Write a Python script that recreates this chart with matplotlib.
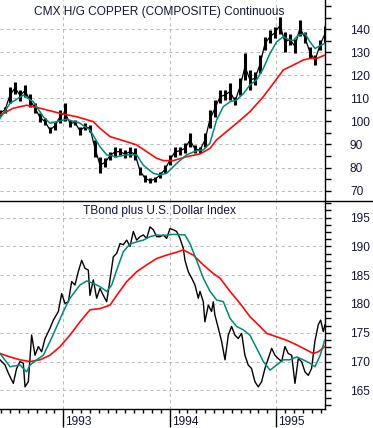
import numpy as np
import matplotlib
matplotlib.use("Agg")
import matplotlib.pyplot as plt
from matplotlib.lines import Line2D
from matplotlib.ticker import MultipleLocator, FixedLocator, NullFormatter

# ---------------- data (decimal years) ----------------
cu_x = [1992.406, 1992.453, 1992.500, 1992.547, 1992.594, 1992.641, 1992.688, 1992.735,
        1992.782, 1992.829, 1992.876, 1992.922, 1992.970, 1993.016, 1993.063, 1993.110,
        1993.157, 1993.204, 1993.251, 1993.298, 1993.345, 1993.392, 1993.439, 1993.486,
        1993.533, 1993.580, 1993.627, 1993.674, 1993.721, 1993.768, 1993.815, 1993.862,
        1993.909, 1993.956, 1994.002, 1994.049, 1994.096, 1994.143, 1994.190, 1994.237,
        1994.284, 1994.331, 1994.378, 1994.425, 1994.472, 1994.519, 1994.566, 1994.613,
        1994.660, 1994.707, 1994.754, 1994.801, 1994.848, 1994.895, 1994.942, 1994.989,
        1995.035, 1995.082, 1995.129, 1995.176, 1995.223, 1995.270, 1995.317, 1995.364,
        1995.411, 1995.455]
cu_low = [102.5, 103.5, 107.8, 112.0, 109.0, 110.7, 106.4, 103.5, 99.9, 98.4, 94.8, 96.3,
          99.2, 100.0, 97.7, 98.4, 94.1, 96.3, 95.6, 84.7, 77.5, 80.4, 83.3, 84.7,
          85.5, 84.0, 84.7, 83.3, 76.8, 73.9, 73.2, 73.9, 75.4, 77.5, 81.0, 84.7,
          85.5, 86.2, 89.0, 86.2, 86.2, 89.0, 97.0, 102.0, 107.8, 109.3, 109.3, 107.0,
          111.4, 118.0, 113.6, 115.8, 120.8, 130.9, 133.8, 136.0, 138.0, 130.2, 133.0, 129.5,
          137.0, 133.8, 127.3, 124.4, 130.9, 133.8]
cu_high = [105.0, 106.4, 115.0, 117.0, 113.6, 115.8, 112.0, 108.0, 103.5, 101.3, 97.7, 99.9,
           105.0, 108.0, 100.6, 100.6, 97.7, 99.2, 98.4, 92.0, 84.7, 84.0, 86.9, 89.0,
           88.3, 87.6, 89.0, 88.3, 80.4, 76.8, 75.4, 76.0, 78.2, 81.0, 85.5, 89.0,
           89.0, 90.5, 94.8, 89.8, 89.0, 94.8, 105.0, 109.3, 113.6, 113.6, 116.5, 110.7,
           118.6, 129.5, 122.3, 121.5, 128.7, 136.7, 139.6, 141.0, 145.3, 138.8, 138.0, 135.5,
           143.9, 138.8, 132.4, 128.7, 135.2, 141.5]

cu_ma_x = [1992.406, 1992.500, 1992.625, 1992.719, 1992.813, 1992.876, 1992.939, 1993.032,
           1993.157, 1993.251, 1993.345, 1993.408, 1993.502, 1993.596, 1993.689, 1993.752,
           1993.846, 1993.908, 1993.971, 1994.065, 1994.158, 1994.252, 1994.315, 1994.377,
           1994.440, 1994.503, 1994.566, 1994.628, 1994.691, 1994.753, 1994.816, 1994.879,
           1994.942, 1995.004, 1995.067, 1995.113, 1995.160, 1995.207, 1995.270, 1995.317,
           1995.364, 1995.455]
cu_ma_fast = [101.3, 107.8, 111.4, 108.5, 102.0, 99.2, 99.9, 100.9, 99.2, 96.3, 89.0, 85.5,
              84.7, 85.5, 85.5, 81.0, 77.5, 76.8, 77.5, 81.8, 85.5, 87.3, 87.6, 90.5,
              100.6, 106.4, 108.5, 109.3, 112.0, 115.8, 118.0, 123.0, 129.5, 134.5, 136.7, 135.5,
              135.0, 137.4, 138.0, 134.5, 131.6, 133.8]
cu_ma_slow_x = [1992.406, 1992.531, 1992.656, 1992.782, 1992.970, 1993.126, 1993.282, 1993.345,
                1993.439, 1993.596, 1993.689, 1993.783, 1993.877, 1993.940, 1994.034, 1994.158,
                1994.284, 1994.378, 1994.440, 1994.534, 1994.628, 1994.753, 1994.879, 1994.973,
                1995.067, 1995.160, 1995.254, 1995.317, 1995.380, 1995.455]
cu_ma_slow = [102.8, 105.7, 107.0, 105.7, 103.5, 102.0, 99.9, 97.0, 93.4, 91.2, 89.8, 86.9,
              84.0, 83.0, 83.0, 84.7, 85.9, 88.3, 92.0, 95.6, 99.2, 104.2, 110.7, 116.5,
              122.3, 124.4, 126.6, 127.3, 127.3, 128.7]

tb_x = [1992.406, 1992.453, 1992.484, 1992.531, 1992.562, 1992.594, 1992.625, 1992.641, 1992.672,
        1992.703, 1992.735, 1992.766, 1992.797, 1992.829, 1992.876, 1992.907, 1992.954, 1992.985,
        1993.016, 1993.048, 1993.079, 1993.110, 1993.141, 1993.173, 1993.204, 1993.235, 1993.251,
        1993.282, 1993.314, 1993.345, 1993.376, 1993.408, 1993.439, 1993.470, 1993.502, 1993.533,
        1993.564, 1993.596, 1993.627, 1993.658, 1993.689, 1993.721, 1993.752, 1993.783, 1993.815,
        1993.846, 1993.877, 1993.908, 1993.940, 1993.971, 1994.002, 1994.034, 1994.065, 1994.096,
        1994.127, 1994.143, 1994.174, 1994.206, 1994.237, 1994.268, 1994.284, 1994.315, 1994.330,
        1994.362, 1994.393, 1994.409, 1994.424, 1994.456, 1994.487, 1994.519, 1994.550, 1994.581,
        1994.612, 1994.643, 1994.675, 1994.706, 1994.737, 1994.768, 1994.800, 1994.831, 1994.863,
        1994.894, 1994.925, 1994.957, 1994.988, 1995.020, 1995.051, 1995.082, 1995.113, 1995.145,
        1995.176, 1995.207, 1995.238, 1995.270, 1995.301, 1995.332, 1995.363, 1995.395, 1995.417,
        1995.442, 1995.458]
tb_close = [170.3, 169.4, 168.0, 166.2, 168.8, 170.0, 169.7, 165.6, 166.5, 174.6, 171.1, 172.6,
            171.7, 174.0, 175.8, 177.2, 178.7, 181.8, 180.1, 180.4, 183.9, 183.3, 185.6, 187.6,
            186.2, 185.9, 181.5, 184.2, 181.0, 182.7, 181.5, 180.4, 184.2, 188.2, 188.8, 190.5,
            190.3, 191.1, 190.0, 192.6, 191.1, 191.7, 192.0, 191.4, 193.4, 192.9, 191.7, 191.7,
            192.0, 191.4, 193.1, 192.9, 192.6, 191.4, 189.7, 187.6, 185.6, 184.5, 183.3, 181.0,
            182.2, 180.4, 176.9, 179.8, 178.7, 180.4, 178.1, 175.8, 173.5, 170.3, 174.6, 176.1,
            174.6, 174.0, 174.9, 171.1, 169.4, 168.8, 166.5, 165.6, 166.5, 168.8, 170.5, 172.3,
            171.1, 170.5, 170.0, 172.6, 171.4, 171.1, 166.2, 170.5, 170.0, 168.2, 167.6, 168.8,
            173.5, 176.4, 177.2, 175.2, 176.4]

tb_ma_fast_x = [1992.406, 1992.500, 1992.594, 1992.656, 1992.688, 1992.750, 1992.813, 1992.876,
                1992.939, 1993.001, 1993.063, 1993.157, 1993.220, 1993.282, 1993.345, 1993.408,
                1993.455, 1993.502, 1993.564, 1993.627, 1993.689, 1993.752, 1993.815, 1993.877,
                1993.940, 1994.034, 1994.143, 1994.190, 1994.252, 1994.315, 1994.378, 1994.440,
                1994.503, 1994.566, 1994.628, 1994.691, 1994.753, 1994.816, 1994.879, 1994.942,
                1995.004, 1995.067, 1995.129, 1995.192, 1995.254, 1995.317, 1995.364, 1995.411,
                1995.455]
tb_ma_fast = [171.4, 169.1, 169.4, 168.2, 169.4, 170.3, 171.1, 173.5, 176.1, 178.7, 181.0, 183.3,
              184.0, 183.6, 183.0, 182.2, 183.3, 185.9, 189.1, 190.4, 190.8, 191.1, 191.7, 192.0,
              191.9, 192.1, 192.0, 190.5, 187.6, 184.5, 182.2, 180.7, 180.4, 177.5, 176.1, 175.5,
              174.6, 172.3, 170.0, 168.5, 169.4, 170.3, 170.3, 170.8, 170.3, 169.7, 169.1, 171.0,
              173.7]
tb_ma_slow_x = [1992.406, 1992.500, 1992.594, 1992.688, 1992.782, 1992.876, 1992.970, 1993.063,
                1993.157, 1993.251, 1993.345, 1993.439, 1993.502, 1993.596, 1993.689, 1993.783,
                1993.877, 1993.971, 1994.065, 1994.127, 1994.221, 1994.315, 1994.409, 1994.472,
                1994.566, 1994.660, 1994.753, 1994.847, 1994.910, 1995.004, 1995.098, 1995.192,
                1995.286, 1995.348, 1995.395, 1995.455]
tb_ma_slow = [171.4, 170.8, 170.3, 170.0, 170.3, 171.1, 172.6, 174.6, 176.9, 179.0, 179.2, 179.8,
              181.5, 183.9, 185.6, 186.8, 187.9, 188.5, 189.0, 189.4, 188.5, 186.8, 185.3, 184.5,
              182.2, 180.1, 177.8, 176.1, 174.9, 174.3, 173.7, 172.9, 172.0, 171.4, 171.7, 172.6]

cu_ticks = [70, 80, 90, 100, 110, 120, 130, 140]
tb_ticks = [165, 170, 175, 180, 185, 190, 195]
year_ticks = [1993, 1994, 1995]
year_labels = ["1993", "1994", "1995"]

# ---------------- style ----------------
TXT = "#14143c"
TEAL = "#008878"
RED = "#ff0a0a"
GRID = "#bcbcbc"
plt.rcParams["font.family"] = ["Liberation Sans", "DejaVu Sans"]

W, H = 373, 428
fig = plt.figure(figsize=(W / 100, H / 100), dpi=100)
right = 325 / W
sep = 201 / H
bot = 409.3 / H
ax1 = fig.add_axes([0, 1 - sep, right, sep])
ax2 = fig.add_axes([0, 1 - bot, right, bot - sep])

XMIN, XMAX = 1992.406, 1995.458


def style(ax, ylo, yhi, major, minor):
    ax.set_xlim(XMIN, XMAX)
    ax.set_ylim(ylo, yhi)
    for s in ("left", "top", "bottom"):
        ax.spines[s].set_visible(False)
    ax.spines["right"].set_linewidth(1.0)
    ax.yaxis.tick_right()
    ax.yaxis.set_major_locator(FixedLocator(major))
    ax.yaxis.set_minor_locator(MultipleLocator(minor))
    ax.tick_params(axis="y", which="major", direction="out", length=4, width=1,
                   pad=14, labelsize=8.6, labelcolor=TXT, colors="black")
    ax.tick_params(axis="y", which="minor", direction="out", length=4, width=1)
    for lab in ax.get_yticklabels():
        lab.set_horizontalalignment("left")
    for v in major:
        ax.axhline(v, color=GRID, lw=0.75, ls=(0, (3, 3)), zorder=0)
    for yv in year_ticks:
        ax.axvline(yv, color=GRID, lw=0.75, ls=(0, (3, 3)), zorder=0)


style(ax1, 65.5, 152.6, cu_ticks, 5)
ax1.set_yticks(cu_ticks + [150])
ax1.set_yticklabels([str(v) for v in cu_ticks] + [""])
for lab in ax1.get_yticklabels():
    lab.set_horizontalalignment("left")
style(ax2, 161.7, 197.9, tb_ticks, 1.25)

ax1.set_xticks([])
ax1.set_xticks([], minor=True)

# copper bars
ax1.vlines(cu_x, cu_low, cu_high, color="black", lw=2.2, zorder=3)
ax1.plot(cu_x, [(a + b) / 2 for a, b in zip(cu_low, cu_high)], color="black", lw=0.9, zorder=3)
ax1.plot(cu_ma_slow_x, cu_ma_slow, color=RED, lw=1.2, zorder=4)
ax1.plot(cu_ma_x, cu_ma_fast, color=TEAL, lw=1.1, zorder=4)
ax1.text(0.49, 0.942, "CMX H/G COPPER (COMPOSITE) Continuous", transform=ax1.transAxes,
         ha="center", va="center", fontsize=8.6, color=TXT)

# tbond line
ax2.plot(tb_x, tb_close, color="black", lw=1.0, zorder=3)
ax2.plot(tb_ma_slow_x, tb_ma_slow, color=RED, lw=1.2, zorder=4)
ax2.plot(tb_ma_fast_x, tb_ma_fast, color=TEAL, lw=1.1, zorder=4)
ax2.text(0.49, 0.95, "TBond plus U.S. Dollar Index", transform=ax2.transAxes,
         ha="center", va="center", fontsize=8.6, color=TXT)

# x axis
ax2.spines["bottom"].set_visible(True)
ax2.spines["bottom"].set_linewidth(1.0)
ax2.xaxis.set_major_locator(FixedLocator(year_ticks))
months = [1992 + m / 12 for m in range(5, 12)] + [1993 + m / 12 for m in range(1, 12)] + \
         [1994 + m / 12 for m in range(1, 12)] + [1995 + m / 12 for m in range(1, 6)]
ax2.xaxis.set_minor_locator(FixedLocator(months))
ax2.xaxis.set_major_formatter(NullFormatter())
ax2.tick_params(axis="x", which="major", direction="out", length=13, width=1)
ax2.tick_params(axis="x", which="minor", direction="out", length=3, width=1)
for yv, lab in zip(year_ticks, year_labels):
    ax2.annotate(lab, xy=(yv, 0), xycoords=("data", "axes fraction"), xytext=(1.5, -9),
                 textcoords="offset points", ha="left", va="center", fontsize=8.6, color=TXT)

# separator line across figure
fig.add_artist(Line2D([0, 1], [1 - sep, 1 - sep], transform=fig.transFigure, color="black", lw=1.0))

fig.savefig("out.png", dpi=100)
